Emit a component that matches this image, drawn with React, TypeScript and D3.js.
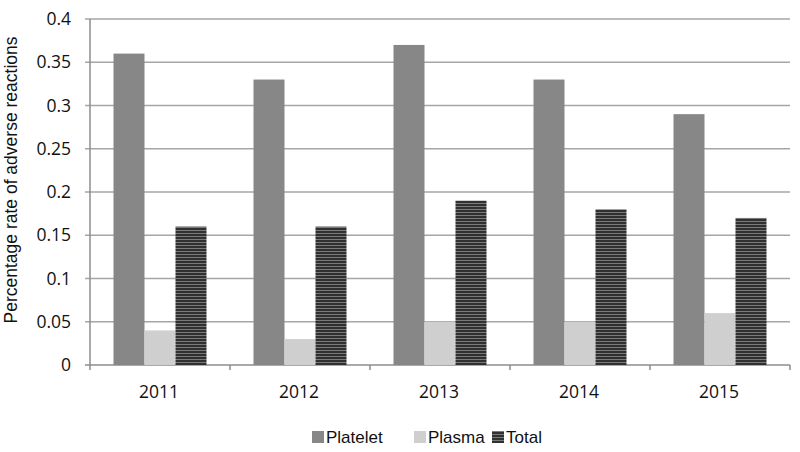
import React from "react";
import * as d3 from "d3";

const years = ["2011", "2012", "2013", "2014", "2015"];
const platelet = [0.36, 0.33, 0.37, 0.33, 0.29];
const plasma = [0.04, 0.03, 0.05, 0.05, 0.06];
const total = [0.16, 0.16, 0.19, 0.18, 0.17];
const yTicks = [0, 0.05, 0.1, 0.15, 0.2, 0.25, 0.3, 0.35, 0.4];
const seriesNames = ["Platelet", "Plasma", "Total"];

const W = 800;
const H = 452;
const left = 90;
const right = 790;
const top = 19;
const bottom = 365;

const fills: Record<string, string> = {
  Platelet: "#878787",
  Plasma: "#cfcfcf",
  Total: "url(#stripes)",
};

const App = () => {
  const x = d3.scaleBand<string>().domain(years).range([left, right]);
  const inner = d3
    .scaleBand<string>()
    .domain(seriesNames)
    .range([23.5, x.bandwidth() - 23.5]);
  const y = d3.scaleLinear().domain([0, 0.4]).range([bottom, top]);

  const series = [platelet, plasma, total];

  return (
    <svg width={W} height={H} style={{position: "absolute", left: 0, top: 0}}>
      <defs>
        <pattern id="stripes" width="4" height="3" patternUnits="userSpaceOnUse">
          <rect width="4" height="3" fill="#303030"/>
          <rect y="2" width="4" height="1" fill="#7a7a7a"/>
        </pattern>
      </defs>
      <rect width={W} height={H} fill="#fff"/>
      {yTicks.map(t => (
        <g key={t}>
          <line x1={left - 5} x2={right} y1={y(t)} y2={y(t)}
                stroke={t === 0 ? "#8c8c8c" : "#a6a6a6"} strokeWidth={1.5}/>
          <text x={left - 19} y={y(t)} dy="0.35em" textAnchor="end"
                fontFamily="'Open Sans', 'DejaVu Sans', sans-serif" fontSize={17.5} fill="#111">
            {t}
          </text>
        </g>
      ))}
      <line x1={left} x2={left} y1={top} y2={bottom + 5} stroke="#8c8c8c" strokeWidth={1.5}/>
      {years.map(yr => (
        <line key={"t" + yr} x1={(x(yr) as number) + x.bandwidth()} x2={(x(yr) as number) + x.bandwidth()}
              y1={bottom} y2={bottom + 5} stroke="#8c8c8c" strokeWidth={1.5}/>
      ))}
      {years.map((yr, i) => (
        <g key={yr} transform={`translate(${x(yr)},0)`}>
          {seriesNames.map((s, j) => (
            <rect key={s} x={inner(s)} width={inner.bandwidth()}
                  y={y(series[j][i])} height={bottom - y(series[j][i])}
                  fill={fills[s]}/>
          ))}
          <text x={x.bandwidth() / 2 - 1} y={392} dy="0.35em" textAnchor="middle"
                fontFamily="'Open Sans', 'DejaVu Sans', sans-serif" fontSize={17.5} fill="#111">
            {yr}
          </text>
        </g>
      ))}
      <text transform={`translate(17,180) rotate(-90)`} textAnchor="middle"
            fontFamily="'Liberation Sans', Arial, sans-serif" fontSize={17.5} fill="#111">
        Percentage rate of adverse reactions
      </text>
      {[
        {name: "Platelet", x: 312},
        {name: "Plasma", x: 414},
        {name: "Total", x: 492},
      ].map(l => (
        <g key={l.name}>
          <rect x={l.x} y={431} width={12} height={12} fill={fills[l.name]}/>
          <text x={l.x + 14} y={437} dy="0.35em"
                fontFamily="'Liberation Sans', Arial, sans-serif" fontSize={17} fill="#111">
            {l.name}
          </text>
        </g>
      ))}
    </svg>
  );
};

export default App;
